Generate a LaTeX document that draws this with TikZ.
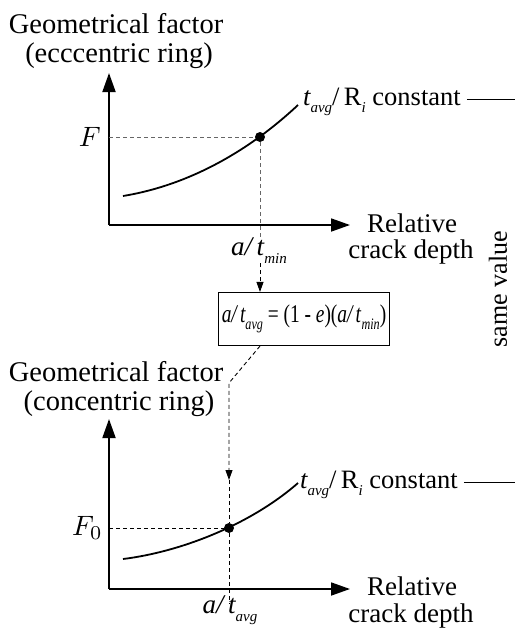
\documentclass[tikz,border=0pt]{standalone}
\usepackage{fontspec}
\setmainfont{Liberation Serif}
\usetikzlibrary{arrows.meta}
\newcommand\lowsub[1]{\raisebox{-0.3em}{\fontsize{15}{15}\selectfont\itshape #1}}
\newcommand\boxsub[1]{\raisebox{-0.3em}{\fontsize{16}{16}\selectfont\itshape #1}}
\begin{document}
\begin{tikzpicture}[x=1pt,y=-1pt,
  txt/.style={inner sep=0pt, font=\fontsize{27}{30}\selectfont},
  ttl/.style={inner sep=0pt, font=\fontsize{28.5}{30}\selectfont},
  mathtxt/.style={inner sep=0pt, font=\normalsize},
  axis/.style={line width=1.8pt, -{Triangle[length=19pt,width=13pt]}},
  curvel/.style={line width=1.8pt},
  guide/.style={dash pattern=on 4pt off 3pt, line width=0.9pt},
  guidegray/.style={guide, draw=black!60},
  smallarr/.style={-{Triangle[length=10pt,width=7pt]}},
  dot/.style={circle, fill=black, inner sep=0pt, minimum size=10pt},
  thinline/.style={line width=1pt}
]
\useasboundingbox (0,0) rectangle (515,630);

% ---------- upper plot ----------
\node[ttl, anchor=base] (ta1) at (116,33) {Geometrical factor};
\node[ttl, anchor=base] (ta2) at (119,62) {(ecccentric ring)};

\coordinate (o1) at (109,225);
\coordinate (y1) at (109,73);
\coordinate (x1) at (350,225);
\draw[axis] (o1) -- (y1);
\draw[axis] (o1) -- (x1);

\coordinate (c1s) at (123,196);
\coordinate (c1e) at (298,105);
\draw[curvel] (c1s) .. controls (190,185) and (250,150) .. (c1e);
\node[dot] (p1) at (260,137) {};

\node[mathtxt, anchor=east] (F) at (101,137) {\scalebox{2.8}{$F$}};
\draw[guidegray] (o1 |- p1) -- (p1);
\node[txt, anchor=base] (tmin) at (259,255) {\itshape a/\,t\lowsub{min}};
\draw[guidegray] (p1) -- (p1 |- 0,240);

\node[txt, anchor=base west, font=\fontsize{26.5}{30}\selectfont] (lab1) at (303,105) {\itshape t\lowsub{avg}\upshape/\,R\lowsub{i} constant};
\coordinate (r1) at (515,99);
\draw[thinline] (lab1.east |- r1) ++(6,0) -- (r1);

\node[txt, anchor=base] (rel1) at (412,232) {Relative};
\node[txt, anchor=base] (crk1) at (411,258) {crack depth};

% ---------- box ----------
\node[draw, line width=1.1pt, minimum width=171pt, minimum height=53pt, inner sep=0pt,
      font=\fontsize{25.5}{27}\selectfont] (box) at (304,319)
  {\scalebox{0.76}[1]{\itshape a/\,t\boxsub{avg}\upshape{} = (1 - \textit{e})(\textit{a/\,t}\boxsub{min})}};
\draw[guide, smallarr] (p1 |- 0,263) -- (p1 |- box.north);

\node[inner sep=0pt, rotate=90, font=\fontsize{26}{28}\selectfont] (same) at (498,289) {same value};

% ---------- lower plot ----------
\node[ttl, anchor=base] (tb1) at (116,381) {Geometrical factor};
\node[ttl, anchor=base] (tb2) at (119,410) {(concentric ring)};

\coordinate (o2) at (109,589);
\coordinate (y2) at (109,419);
\coordinate (x2) at (350,589);
\draw[axis] (o2) -- (y2);
\draw[axis] (o2) -- (x2);

\coordinate (c2s) at (123,559);
\coordinate (c2e) at (298,483);
\draw[curvel] (c2s) .. controls (180,552) and (250,525) .. (c2e);
\node[dot] (p2) at (229,528) {};

\node[mathtxt, anchor=east] (F0) at (103,528) {\scalebox{2.8}{$F_0$}};
\draw[guide] (o2 |- p2) -- (p2);

\coordinate (bend) at (229,383);
\coordinate (mid) at (229,480);
\draw[guide, smallarr] (p1 |- box.south) -- (bend) -- (mid);
\draw[guide] (mid) -- (p2) -- (p2 |- 0,604);
\node[txt, anchor=base] (tavg) at (230,613) {\itshape a/\,t\lowsub{avg}};

\node[txt, anchor=base west, font=\fontsize{26.5}{30}\selectfont] (lab2) at (300,488) {\itshape t\lowsub{avg}\upshape/\,R\lowsub{i} constant};
\coordinate (r2) at (515,482);
\draw[thinline] (lab2.east |- r2) ++(6,0) -- (r2);

\node[txt, anchor=base] (rel2) at (412,595) {Relative};
\node[txt, anchor=base] (crk2) at (411,622) {crack depth};
\end{tikzpicture}
\end{document}
